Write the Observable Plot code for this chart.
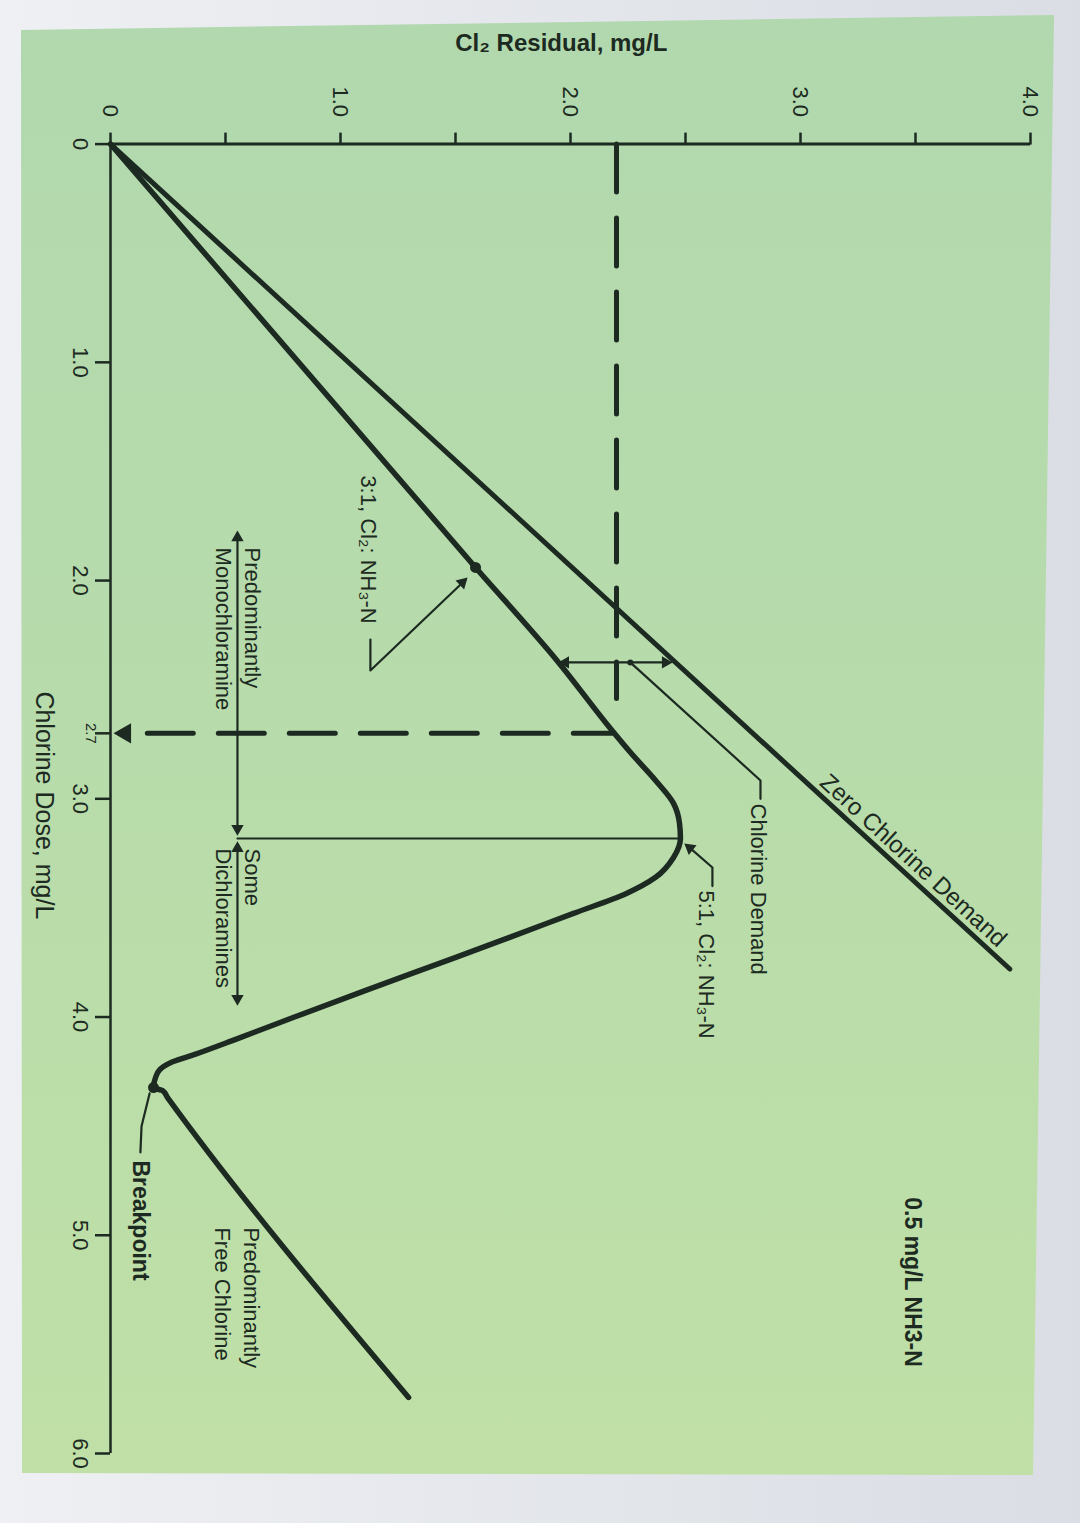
<!DOCTYPE html>
<html>
<head>
<meta charset="utf-8">
<script src="https://cdn.jsdelivr.net/npm/d3@7"></script>
<script src="https://cdn.jsdelivr.net/npm/@observablehq/plot@0.6"></script>
<style>
  html, body { margin: 0; padding: 0; background: #dfe2e8; }
  #wrap { position: relative; width: 1080px; height: 1523px; overflow: hidden;
          background: linear-gradient(90deg, #eef0f3 0%, #dadde4 100%); }
  #paper { position: absolute; left: 0; top: 0; width: 1080px; height: 1523px;
           background: linear-gradient(180deg, #b1d8ae 0%, #b7dbab 45%, #c0e0a6 100%);
           clip-path: polygon(21px 30px, 1054px 15px, 1033px 1475px, 22px 1473px); }
  #chart { position: absolute; left: 0; top: 0; }
</style>
</head>
<body>
<div id="wrap"><div id="paper"></div><div id="chart"></div></div>
<script>
// ---------- axes ----------
const residualTicks = [0, 0.5, 1, 1.5, 2, 2.5, 3, 3.5, 4];
const residualLabelValues = [0, 1, 2, 3, 4];
const residualLabels = ["0", "1.0", "2.0", "3.0", "4.0"];
const doseTicks = [0, 1, 2, 2.7, 3, 4, 5, 6];
const doseLabelValues = [0, 1, 2, 3, 4, 5, 6];
const doseLabels = ["0", "1.0", "2.0", "3.0", "4.0", "5.0", "6.0"];
const markedDose = [2.7];
const markedDoseLabel = ["2.7"];
const residualTitle = "Cl\u2082 Residual, mg/L";
const doseTitle = "Chlorine Dose, mg/L";

// ---------- curves (dose mg/L, residual mg/L) ----------
const zeroDemandDose = [0, 3.78];
const zeroDemandResidual = [0, 3.91];

const curveDose = [0, 1.94, 2.375, 2.673, 2.788, 2.916, 3.021, 3.113, 3.182, 3.269, 3.36, 3.434, 3.525,
  3.649, 3.754, 3.878, 4.0, 4.1, 4.17, 4.205, 4.24, 4.28, 4.323, 4.337, 4.369, 5.743];
const curveResidual = [0, 1.587, 1.948, 2.17, 2.261, 2.37, 2.448, 2.474, 2.478, 2.448, 2.37, 2.243, 2.013,
  1.7, 1.43, 1.11, 0.8, 0.55, 0.37, 0.27, 0.215, 0.195, 0.187, 0.226, 0.248, 1.296];

// dashed guides
const guideVDose = [0, 2.54];
const guideVResidual = [2.2, 2.2];
const guideHDose = [2.7, 2.7];
const guideHResidual = [0.16, 2.18];

// thin annotation lines
const leaderNames = ["ratio31", "mono", "dichlor", "peak", "demand", "demandLeader", "ratio51", "breakpoint"];
const leaderDose = [[2.27, 2.412, 1.995], [1.8, 3.14], [3.23, 3.91], [3.182, 3.182], [2.375, 2.375],
  [2.375, 2.916, 3.0], [3.225, 3.315, 3.4], [4.35, 4.5, 4.62]];
const leaderResidual = [[1.13, 1.13, 1.545], [0.552, 0.552], [0.552, 0.552], [0.552, 2.478], [1.97, 2.42],
  [2.26, 2.826, 2.826], [2.519, 2.617, 2.617], [0.17, 0.135, 0.13]];

// arrow heads
const headDose = [2.009, 2.375, 2.375, 1.803, 3.136, 3.227, 3.915, 3.225];
const headResidual = [1.53, 1.978, 2.413, 0.552, 0.552, 0.552, 0.552, 2.519];
const headAngle = [46, -90, 90, 0, 180, 0, 180, -51];

// dose marker triangle on the dose axis
const markerResidual = [0.064];

// key points
const keyPointDose = [1.94, 4.323];
const keyPointResidual = [1.587, 0.187];
const leaderDotDose = [2.375];
const leaderDotResidual = [2.26];

// annotation texts
const noteTexts = ["3:1, Cl\u2082: NH\u2083-N", "Predominantly\nMonochloramine", "Some\nDichloramines",
  "Chlorine Demand", "5:1, Cl\u2082: NH\u2083-N", "Predominantly\nFree Chlorine"];
const noteDose = [1.518, 1.849, 3.228, 3.022, 3.42, 4.964];
const noteResidual = [1.13, 0.561, 0.561, 2.826, 2.6, 0.557];
const boldNoteTexts = ["Breakpoint", "0.5 mg/L NH3-N"];
const boldNoteDose = [4.657, 4.826];
const boldNoteResidual = [0.13, 3.487];
const zeroLabel = ["Zero Chlorine Demand"];
const zeroLabelDose = [3.333];
const zeroLabelResidual = [3.447];

// ---------- build tables ----------
const ink = "#1c2a21";
const font = "'Liberation Sans', Arial, Helvetica, sans-serif";
const zeroRows = zeroDemandDose.map((d, i) => ({d, r: zeroDemandResidual[i]}));
const curveRows = curveDose.map((d, i) => ({d, r: curveResidual[i]}));
const guideVRows = guideVDose.map((d, i) => ({d, r: guideVResidual[i]}));
const guideHRows = guideHDose.map((d, i) => ({d, r: guideHResidual[i]}));
const leaderRows = leaderNames.flatMap((n, i) => leaderDose[i].map((d, j) => ({n, d, r: leaderResidual[i][j]})));
const headRows = headDose.map((d, i) => ({d, r: headResidual[i], a: headAngle[i]}));
const keyRows = keyPointDose.map((d, i) => ({d, r: keyPointResidual[i]}));
const leaderDotRows = leaderDotDose.map((d, i) => ({d, r: leaderDotResidual[i]}));
const markerRows = markedDose.map((d, i) => ({d, r: markerResidual[i]}));
const noteRows = noteTexts.map((t, i) => ({t, d: noteDose[i], r: noteResidual[i]}));
const boldRows = boldNoteTexts.map((t, i) => ({t, d: boldNoteDose[i], r: boldNoteResidual[i]}));
const zeroLabelRows = zeroLabel.map((t, i) => ({t, d: zeroLabelDose[i], r: zeroLabelResidual[i]}));
const resLabelRows = residualLabelValues.map((v, i) => ({v, t: residualLabels[i]}));
const doseLabelRows = doseLabelValues.map((v, i) => ({v, t: doseLabels[i]}));
const markedLabelRows = markedDose.map((v, i) => ({v, t: markedDoseLabel[i]}));

const W = 1080, H = 1523;
const chart = Plot.plot({
  width: W,
  height: H,
  marginTop: 143.6,
  marginBottom: 70,
  marginLeft: 110,
  marginRight: 50,
  style: {background: "transparent", overflow: "visible", fontFamily: font},
  x: {domain: [0, 4], label: null},
  y: {domain: [0, 6], reverse: true, label: null},
  marks: [
    // axis lines and ticks
    Plot.ruleY([0], {y: d => d, x1: 0, x2: 4, stroke: ink, strokeWidth: 3}),
    Plot.ruleX([0], {x: d => d, y1: 0, y2: 6, stroke: ink, strokeWidth: 2.5}),
    Plot.axisX(residualTicks, {anchor: "top", tickSize: 12, tickFormat: () => null, label: null, stroke: ink, strokeWidth: 2.5}),
    Plot.axisY(doseTicks, {anchor: "left", tickSize: 15, tickFormat: () => null, label: null, stroke: ink, strokeWidth: 2.5}),
    // tick labels
    Plot.text(resLabelRows, {x: "v", y: 0, text: "t", rotate: 90, textAnchor: "end", lineAnchor: "middle",
      dy: -27, fontSize: 22, fill: ink, fontFamily: font}),
    Plot.text(doseLabelRows, {x: 0, y: "v", text: "t", rotate: 90, textAnchor: "middle", lineAnchor: "middle",
      dx: -30, fontSize: 22, fill: ink, fontFamily: font}),
    Plot.text(markedLabelRows, {x: 0, y: "v", text: "t", rotate: 90, textAnchor: "middle", lineAnchor: "middle",
      dx: -20, fontSize: 15, fill: ink, fontFamily: font}),
    // axis titles
    Plot.text([residualTitle], {x: 1.96, y: 0, text: d => d, dy: -101, fontSize: 24, fontWeight: "bold",
      fill: ink, fontFamily: font, lineAnchor: "middle"}),
    Plot.text([doseTitle], {x: 0, y: 3.03, text: d => d, rotate: 90, dx: -67, fontSize: 25, textAnchor: "middle",
      lineAnchor: "middle", fill: ink, fontFamily: font}),
    // dashed guides
    Plot.line(guideVRows, {x: "r", y: "d", stroke: ink, strokeWidth: 5, strokeDasharray: "48,26"}),
    Plot.line(guideHRows, {x: "r", y: "d", stroke: ink, strokeWidth: 5, strokeDasharray: "46,25"}),
    // main curves
    Plot.line(zeroRows, {x: "r", y: "d", stroke: ink, strokeWidth: 5, strokeLinecap: "round"}),
    Plot.line(curveRows, {x: "r", y: "d", curve: "monotone-y", stroke: ink, strokeWidth: 5.5,
      strokeLinecap: "round", strokeLinejoin: "round"}),
    // thin annotation lines
    Plot.line(leaderRows, {x: "r", y: "d", z: "n", stroke: ink, strokeWidth: 2.2, strokeLinejoin: "round"}),
    Plot.dot(headRows, {x: "r", y: "d", rotate: "a", symbol: "triangle", r: 4.6, fill: ink, stroke: "none"}),
    Plot.dot(markerRows, {x: "r", y: "d", rotate: -90, symbol: "triangle", r: 7.5, fill: ink, stroke: "none"}),
    Plot.dot(keyRows, {x: "r", y: "d", r: 5.5, fill: ink, stroke: "none"}),
    Plot.dot(leaderDotRows, {x: "r", y: "d", r: 3, fill: ink, stroke: "none"}),
    // annotation texts
    Plot.text(noteRows, {x: "r", y: "d", text: "t", rotate: 90, textAnchor: "start", lineAnchor: "middle",
      lineHeight: 1.3, fontSize: 22, fill: ink, fontFamily: font}),
    Plot.text(boldRows, {x: "r", y: "d", text: "t", rotate: 90, textAnchor: "start", lineAnchor: "middle",
      fontSize: 23, fontWeight: "bold", fill: ink, fontFamily: font}),
    Plot.text(zeroLabelRows, {x: "r", y: "d", text: "t", rotate: 42.5, textAnchor: "middle", lineAnchor: "middle",
      dx: 10, dy: -11, fontSize: 24, fill: ink, fontFamily: font})
  ]
});
document.getElementById("chart").appendChild(chart);
</script>
</body>
</html>
